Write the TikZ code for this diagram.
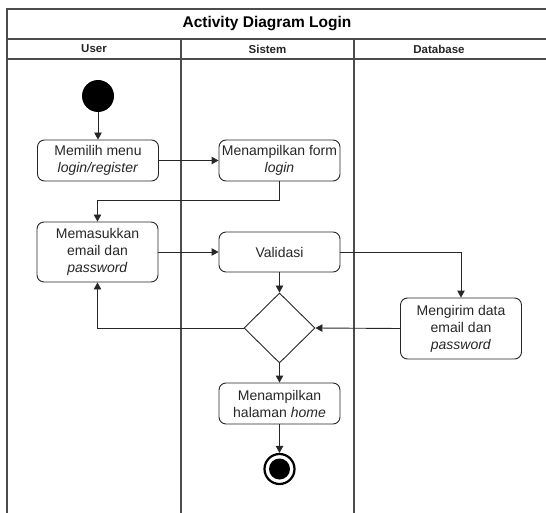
\documentclass[tikz,border=0pt]{standalone}
\usepackage{fontspec}
\setmainfont{Liberation Sans}
\usetikzlibrary{arrows.meta,shapes.geometric}
\colorlet{darkline}{black!85}
\colorlet{lanegray}{black!70}

\begin{document}
\begin{tikzpicture}[x=1pt,y=-1pt,
	act/.style={draw=darkline,rounded corners=7pt,line width=0.9pt,minimum width=121pt,inner sep=2pt,align=center,text=darkline,font=\fontsize{14}{17}\selectfont},
	flow/.style={draw=darkline,line width=0.9pt,-{Triangle[length=7pt,width=7.5pt]}},
	hv/.style={to path={-| (\tikztotarget)}},
	lane/.style={draw=lanegray,line width=1.2pt},
	lanehead/.style={font=\bfseries\fontsize{11.5}{13}\selectfont,text=darkline}]
	\useasboundingbox (0,0) rectangle (546,513);
	% swimlanes
	\draw[lane] (7,513) -- (7,9) -- (550,9);
	\draw[lane] (7,39) -- (550,39);
	\draw[lane] (7,59) -- (550,59);
	\draw[lane] (181,39) -- (181,513);
	\draw[lane] (354,39) -- (354,513);
	\node	(title) at (267,24) [font=\bfseries\fontsize{15.5}{18}\selectfont] {Activity Diagram Login};
	\node	(user) at (94,49) [lanehead] {User};
	\node	(sistem) at (267.5,49) [lanehead] {Sistem};
	\node	(database) at (439,49) [lanehead] {Database};
	% activities
	\node	(start) at (98,96) [circle,fill=black,inner sep=0pt,minimum size=32pt] {};
	\node	(menu) at (98,160.5) [act,minimum height=41pt] {Memilih menu\\\textit{login/register}};
	\node	(form) at (279.5,160.5) [act,minimum height=41pt] {Menampilkan form\\\textit{login}};
	\node	(input) at (97.5,252) [act,minimum height=60pt] {Memasukkan\\email dan\\\textit{password}};
	\node	(valid) at (279.5,252) [act,minimum height=40pt] {Validasi};
	\node	(kirim) at (461,328.5) [act,minimum height=61pt] {Mengirim data\\email dan\\\textit{password}};
	\node	(cek) at (279.5,328) [diamond,draw=darkline,line width=0.9pt,inner sep=0pt,minimum width=71pt,minimum height=70pt] {};
	\node	(home) at (279.5,403.5) [act,minimum height=41pt] {Menampilkan\\halaman \textit{home}};
	\node	(end) at (279.5,469) [circle,draw=black,line width=2.2pt,inner sep=0pt,minimum size=30pt] {};
	\node	(endin) at (end.center) [circle,fill=black,inner sep=0pt,minimum size=21pt] {};
	\draw
	(start) edge[flow] (menu)
	(menu) edge[flow] (form)
	(form.south) edge[flow,to path={-- ++(0,19.5) -| (\tikztotarget)}] (input.north)
	(input) edge[flow] (valid)
	(valid.east) edge[flow,hv] (kirim.north)
	(valid) edge[flow] (cek)
	(kirim.west) edge[flow] (cek.east)
	(cek.west) edge[flow,hv] (input.south)
	(cek) edge[flow] (home)
	(home) edge[flow] (end)
	;
\end{tikzpicture}
\end{document}
